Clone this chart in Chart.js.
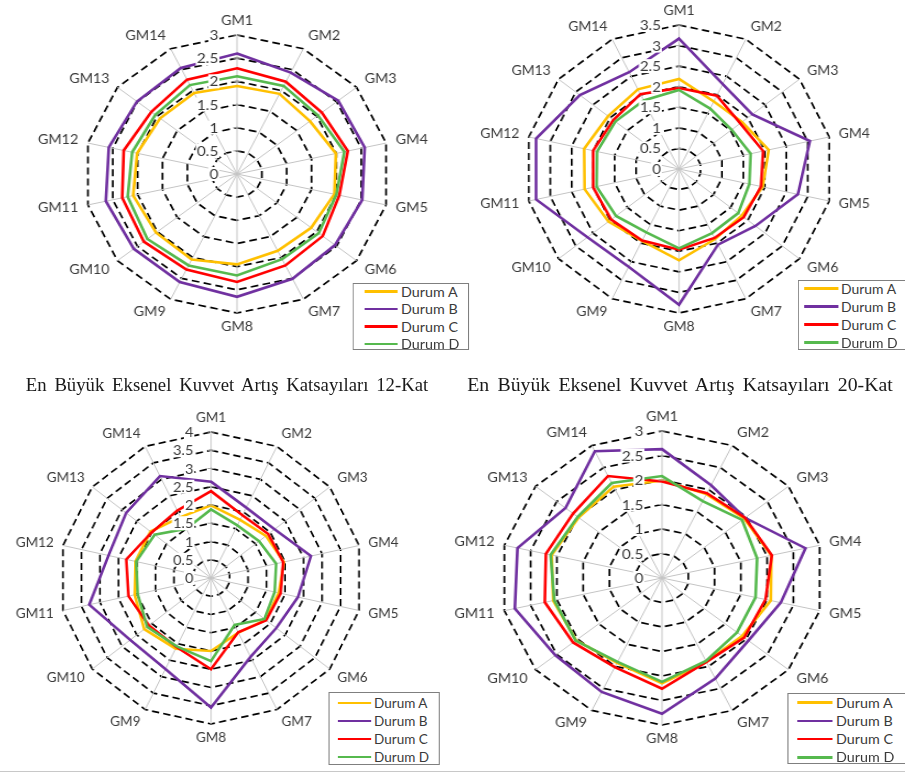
<!DOCTYPE html>
<html>
<head>
<meta charset="utf-8">
<script src="https://cdn.jsdelivr.net/npm/chart.js@4.4.0/dist/chart.umd.min.js"></script>
<style>
  html, body { margin: 0; padding: 0; background: #fff; }
  body { width: 905px; height: 773px; position: relative; overflow: hidden; font-family: Lato, sans-serif; }
  .panel { position: absolute; left: 0; top: 0; width: 905px; height: 773px; }
  .panel canvas { position: absolute; }
  .title { position: absolute; font-family: 'Liberation Serif', 'Times New Roman', serif; font-size: 18px;
           word-spacing: 3px; color: #1a1a1a; white-space: nowrap; transform: translate(-50%, -50%); }
  .legend { position: absolute; border: 1px solid #7f7f7f; background: #fff; box-sizing: border-box; }
  .legend .swatch { position: absolute; height: 2.5px; }
  .legend .name { position: absolute; font-size: 13px; line-height: 13px; color: #3a3a3a; white-space: nowrap; transform: translateY(-50%); }
  #baseline { position: absolute; left: 0; top: 771px; width: 905px; height: 1px; background: #c8c8c8; }
</style>
</head>
<body>
<div id="baseline"></div>
<script>
// yer hareketi kayıtları
const categories = ['GM1', 'GM2', 'GM3', 'GM4', 'GM5', 'GM6', 'GM7', 'GM8', 'GM9', 'GM10', 'GM11', 'GM12', 'GM13', 'GM14'];
const seriesNames = ['Durum A', 'Durum B', 'Durum C', 'Durum D'];
const seriesColors = ['#FFC000', '#7030A0', '#FF0000', '#56B94E'];

// sol üst
const tlA = [1.90, 1.92, 1.83, 1.99, 1.96, 1.86, 1.84, 1.95, 2.05, 2.03, 2.09, 2.01, 1.93, 1.94];
const tlB = [2.60, 2.43, 2.54, 2.57, 2.52, 2.46, 2.51, 2.65, 2.59, 2.59, 2.64, 2.58, 2.51, 2.54];
const tlC = [2.28, 2.21, 2.13, 2.23, 2.06, 2.15, 2.19, 2.33, 2.29, 2.34, 2.31, 2.28, 2.15, 2.26];
const tlD = [2.11, 2.11, 2.03, 2.16, 2.00, 2.05, 2.04, 2.19, 2.19, 2.25, 2.20, 2.11, 2.05, 2.13];
const tlTicks = ['0', '0.5', '1', '1.5', '2', '2.5', '3'];

// sağ üst
const trA = [2.19, 1.82, 1.83, 2.09, 1.95, 1.82, 1.89, 2.22, 1.94, 2.05, 2.20, 2.21, 2.06, 2.15];
const trB = [3.17, 2.29, 2.13, 3.05, 2.77, 2.22, 2.04, 3.30, 2.64, 2.66, 3.33, 3.33, 2.88, 2.61];
const trC = [1.97, 1.98, 1.78, 1.96, 1.91, 1.88, 1.86, 1.96, 1.93, 1.97, 2.00, 2.00, 1.91, 2.02];
const trD = [1.92, 1.63, 1.53, 1.67, 1.64, 1.72, 1.73, 1.93, 1.71, 1.83, 1.92, 1.91, 1.85, 1.85];
const trTicks = ['0', '0.5', '1', '1.5', '2', '2.5', '3', '3.5'];

// 12 katlı bina
const blA = [1.99, 1.77, 1.85, 1.97, 1.83, 1.84, 1.66, 2.00, 2.15, 2.25, 2.06, 2.04, 2.04, 1.85];
const blB = [2.64, 2.14, 2.14, 2.70, 2.35, 2.20, 2.40, 3.55, 2.77, 2.72, 3.29, 2.77, 2.86, 3.10];
const blC = [2.38, 1.91, 1.93, 1.95, 1.88, 1.86, 1.65, 2.50, 2.10, 2.09, 2.23, 2.29, 2.00, 2.05];
const blD = [1.88, 1.60, 1.62, 1.76, 1.72, 1.80, 1.43, 2.28, 2.08, 2.15, 1.98, 2.02, 1.90, 1.50];
const blTicks = ['0', '0.5', '1', '1.5', '2', '2.5', '3', '3.5', '4'];
const blTitle = 'En Büyük Eksenel Kuvvet Artış Katsayıları 12-Kat';

// 20 katlı bina
const brA = [1.99, 1.90, 1.95, 2.08, 2.07, 1.90, 1.90, 2.15, 1.92, 2.04, 2.07, 2.10, 1.98, 2.07];
const brB = [2.63, 2.10, 1.97, 2.73, 2.26, 2.05, 2.28, 2.77, 2.58, 2.53, 2.80, 2.75, 2.29, 2.87];
const brC = [1.97, 1.92, 1.97, 2.09, 1.97, 1.95, 1.90, 2.26, 2.02, 2.11, 2.23, 2.21, 2.11, 2.31];
const brD = [2.08, 1.74, 1.90, 1.81, 1.78, 1.78, 1.88, 2.12, 1.90, 2.05, 2.05, 2.12, 2.00, 2.15];
const brTicks = ['0', '0.5', '1', '1.5', '2', '2.5', '3'];
const brTitle = 'En Büyük Eksenel Kuvvet Artış Katsayıları 20-Kat';

// eksen yazıları: değerler GM1 ekseninin solunda, beyaz zemin üstünde
const radarText = {
  id: 'radarText',
  afterDatasetsDraw(chart, args, opts) {
    const r = chart.scales.r;
    const ctx = chart.ctx;
    const n = chart.data.labels.length;
    ctx.save();

    ctx.font = '14px Lato';
    ctx.textAlign = 'right';
    ctx.textBaseline = 'middle';
    r.ticks.forEach((t, i) => {
      const y = r.yCenter - r.getDistanceFromCenterForValue(t.value);
      const txt = opts.labels[i];
      const w = ctx.measureText(txt).width;
      const x = r.xCenter - 17;
      ctx.fillStyle = '#fff';
      ctx.fillRect(x - w - 1, y - 7, w + 2, 14);
      ctx.fillStyle = '#3a3a3a';
      ctx.fillText(txt, x, y + 0.5);
      if (i > 0) {
        ctx.strokeStyle = '#a6a6a6';
        ctx.lineWidth = 1;
        ctx.beginPath();
        ctx.moveTo(r.xCenter - 3.5, y);
        ctx.lineTo(r.xCenter + 3.5, y);
        ctx.stroke();
      }
    });

    ctx.font = '13px Lato';
    ctx.fillStyle = '#3a3a3a';
    ctx.textBaseline = 'middle';
    for (let i = 0; i < n; i++) {
      const p = r.getPointPosition(i, r.drawingArea + 8);
      const a = i * 2 * Math.PI / n;
      let align = 'center';
      let x = p.x;
      if (i > 0 && i < n / 2) { align = 'left'; x += 1; }
      if (i > n / 2) { align = 'right'; x -= 1; }
      ctx.textAlign = align;
      ctx.fillText(chart.data.labels[i], x, p.y - Math.cos(a) * 6);
    }
    ctx.restore();
  }
};

function buildPanel(cfg) {
  const k = cfg.stretch;
  const ux = X => cfg.cx + (X - cfg.cx) / k;

  const panel = document.createElement('div');
  panel.className = 'panel';
  panel.style.transformOrigin = cfg.cx + 'px 0';
  panel.style.transform = 'scaleX(' + k + ')';
  document.body.appendChild(panel);

  const pad = 70;
  const size = 2 * cfg.r + 2 * pad;
  const canvas = document.createElement('canvas');
  canvas.width = size;
  canvas.height = size;
  canvas.style.left = (cfg.cx - cfg.r - pad) + 'px';
  canvas.style.top = (cfg.cy - cfg.r - pad) + 'px';
  panel.appendChild(canvas);

  const datasets = cfg.series.map((vals, i) => ({
    label: seriesNames[i],
    data: vals,
    borderColor: seriesColors[i],
    backgroundColor: seriesColors[i],
    borderWidth: 2.6,
    fill: false,
    pointRadius: 0,
    order: cfg.series.length - i
  }));

  new Chart(canvas, {
    type: 'radar',
    data: { labels: categories, datasets: datasets },
    options: {
      responsive: false,
      animation: false,
      layout: { padding: pad },
      plugins: {
        legend: { display: false },
        tooltip: { enabled: false },
        radarText: { labels: cfg.ticks }
      },
      scales: {
        r: {
          min: 0,
          max: parseFloat(cfg.ticks[cfg.ticks.length - 1]),
          ticks: { display: false, stepSize: parseFloat(cfg.ticks[1]) },
          pointLabels: { display: false },
          grid: { circular: false, color: '#000', lineWidth: 1.7 },
          border: { dash: [7, 4] },
          angleLines: { color: '#c4c4c4', lineWidth: 1 }
        }
      },
      elements: { line: { tension: 0 } }
    },
    plugins: [radarText]
  });

  if (cfg.title) {
    const t = document.createElement('div');
    t.className = 'title';
    t.textContent = cfg.title;
    t.style.left = ux(cfg.titleX) + 'px';
    t.style.top = cfg.titleY + 'px';
    panel.appendChild(t);
  }

  // lejant kutusu
  const L = cfg.legend;
  const box = document.createElement('div');
  box.className = 'legend';
  box.style.left = ux(L.x) + 'px';
  box.style.top = L.y + 'px';
  box.style.width = (L.w / k) + 'px';
  box.style.height = L.h + 'px';
  seriesNames.forEach((name, i) => {
    const y = L.first + i * L.gap;
    const sw = document.createElement('div');
    sw.className = 'swatch';
    sw.style.background = seriesColors[i];
    sw.style.left = (L.line / k) + 'px';
    sw.style.width = (L.lineW / k) + 'px';
    sw.style.top = (y - 1.25) + 'px';
    box.appendChild(sw);
    const s = document.createElement('div');
    s.className = 'name';
    s.textContent = name;
    s.style.left = (L.text / k) + 'px';
    s.style.top = y + 'px';
    box.appendChild(s);
  });
  panel.appendChild(box);
}

buildPanel({
  cx: 237, cy: 174, r: 139, stretch: 1.10,
  series: [tlA, tlB, tlC, tlD], ticks: tlTicks,
  legend: { x: 353, y: 283, w: 116, h: 67, first: 7.5, gap: 17.5, line: 10, lineW: 34, text: 47 }
});
buildPanel({
  cx: 679, cy: 169, r: 144, stretch: 1.07,
  series: [trA, trB, trC, trD], ticks: trTicks,
  legend: { x: 798, y: 280, w: 116, h: 70, first: 7.5, gap: 18, line: 5, lineW: 34, text: 42 }
});
buildPanel({
  cx: 211, cy: 578, r: 146, stretch: 1.04,
  series: [blA, blB, blC, blD], ticks: blTicks,
  title: blTitle, titleX: 227, titleY: 385,
  legend: { x: 328, y: 692, w: 112, h: 73, first: 10, gap: 18, line: 9, lineW: 33, text: 45 }
});
buildPanel({
  cx: 662, cy: 578, r: 147, stretch: 1.10,
  series: [brA, brB, brC, brD], ticks: brTicks,
  title: brTitle, titleX: 680, titleY: 385,
  legend: { x: 787, y: 693, w: 125, h: 71, first: 8.5, gap: 18.3, line: 9.5, lineW: 35, text: 48 }
});
</script>
</body>
</html>
